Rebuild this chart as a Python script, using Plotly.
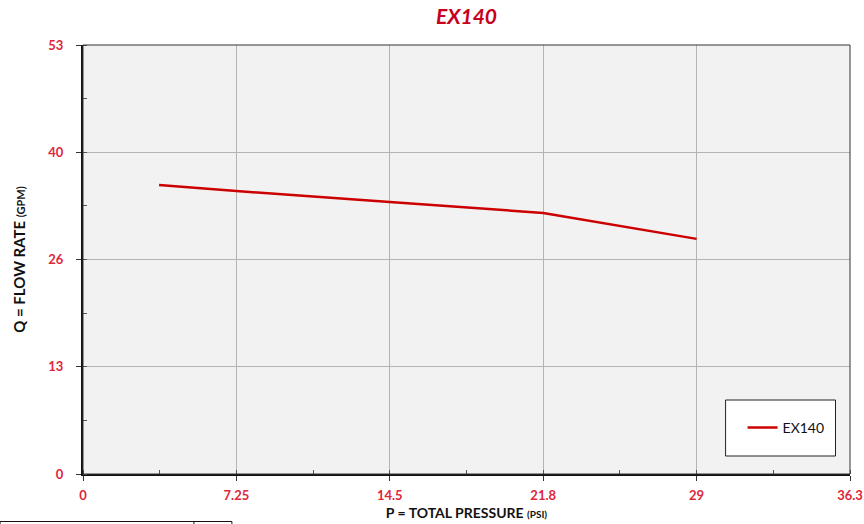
import plotly.graph_objects as go

# Data
pressure_psi = [3.6, 7.26, 14.52, 21.78, 29.04]
flow_gpm = [35.7, 34.95, 33.6, 32.25, 29.05]
series_name = "EX140"

x_tickvals = [0, 7.26, 14.52, 21.78, 29.04, 36.3]
x_ticktext = ["0", "7.25", "14.5", "21.8", "29", "36.3"]
y_tickvals = [0, 13.25, 26.5, 39.75, 53]
y_ticktext = ["0", "13", "26", "40", "53"]

W, H = 864, 524
L, R, T, B = 83, 850.5, 45, 474
pw, ph = R - L, B - T

def px(xp):
    return (xp - L) / pw

def py(yp):
    return (B - yp) / ph

RED_TICK = "#e0263a"
RED_LINE = "#cc0000"
FONT = "Lato"

fig = go.Figure()
fig.add_trace(go.Scatter(
    x=pressure_psi, y=flow_gpm, mode="lines", name=series_name,
    line=dict(color=RED_LINE, width=2.5),
))

axis_common = dict(
    automargin=False,
    showline=True, linecolor="#111111", linewidth=2,
    ticks="outside", ticklen=5, tickcolor="#333333", tickwidth=1,
    showgrid=True, gridcolor="#b4b4b4", gridwidth=1,
    zeroline=False,
    tickfont=dict(family=FONT, size=13, color=RED_TICK, weight="bold"),
)

fig.update_xaxes(
    range=[0, 36.3], tickmode="array", tickvals=x_tickvals, ticktext=x_ticktext,
    minor=dict(tickmode="linear", tick0=0, dtick=3.63, ticks="inside", ticklen=4,
               tickcolor="#555555", showgrid=False),
    title=dict(text="P = TOTAL PRESSURE <span style='font-size:10px'>(PSI)</span>",
               font=dict(family=FONT, size=14, color="#111111", weight="bold"), standoff=7),
    ticklabelstandoff=3,
    **axis_common,
)
fig.update_yaxes(
    range=[0, 53], tickmode="array", tickvals=y_tickvals, ticktext=y_ticktext,
    minor=dict(tickmode="linear", tick0=0, dtick=6.625, ticks="inside", ticklen=4,
               tickcolor="#555555", showgrid=False),
    title=dict(text="Q = FLOW RATE <span style='font-size:11px'>(GPM)</span>",
               font=dict(family=FONT, size=15, color="#111111", weight="bold"), standoff=19),
    ticklabelstandoff=10,
    **axis_common,
)

shapes = [
    dict(type="rect", xref="paper", yref="paper", x0=0, x1=1, y0=0, y1=1,
         line=dict(color="#333333", width=1), layer="above"),
    dict(type="rect", xref="paper", yref="paper", x0=px(726), x1=px(836),
         y0=py(456), y1=py(400), fillcolor="white",
         line=dict(color="#222222", width=1), layer="below"),
    dict(type="rect", xref="paper", yref="paper", x0=px(0), x1=px(232),
         y0=py(560), y1=py(521.5), line=dict(color="#111111", width=1)),
    dict(type="line", xref="paper", yref="paper", x0=px(194), x1=px(194),
         y0=py(560), y1=py(521.5), line=dict(color="#111111", width=1)),
]

fig.update_layout(
    width=W, height=H,
    margin=dict(l=L, r=W - R, t=T, b=H - B, pad=0, autoexpand=False),
    paper_bgcolor="white", plot_bgcolor="#f2f2f2",
    title=dict(text="<i>EX140</i>", x=0.5, xref="paper", y=1 - 17 / H, yanchor="middle",
               font=dict(family=FONT, size=21, color="#c8001e", weight="bold")),
    showlegend=True,
    legend=dict(x=px(743), y=py(428), xanchor="left", yanchor="middle",
                bgcolor="rgba(0,0,0,0)", borderwidth=0, itemwidth=30,
                font=dict(family=FONT, size=14, color="#111111")),
    shapes=shapes,
)

fig.write_html("out.html", config={"displayModeBar": False},
               post_script="document.body.style.margin='0';")
